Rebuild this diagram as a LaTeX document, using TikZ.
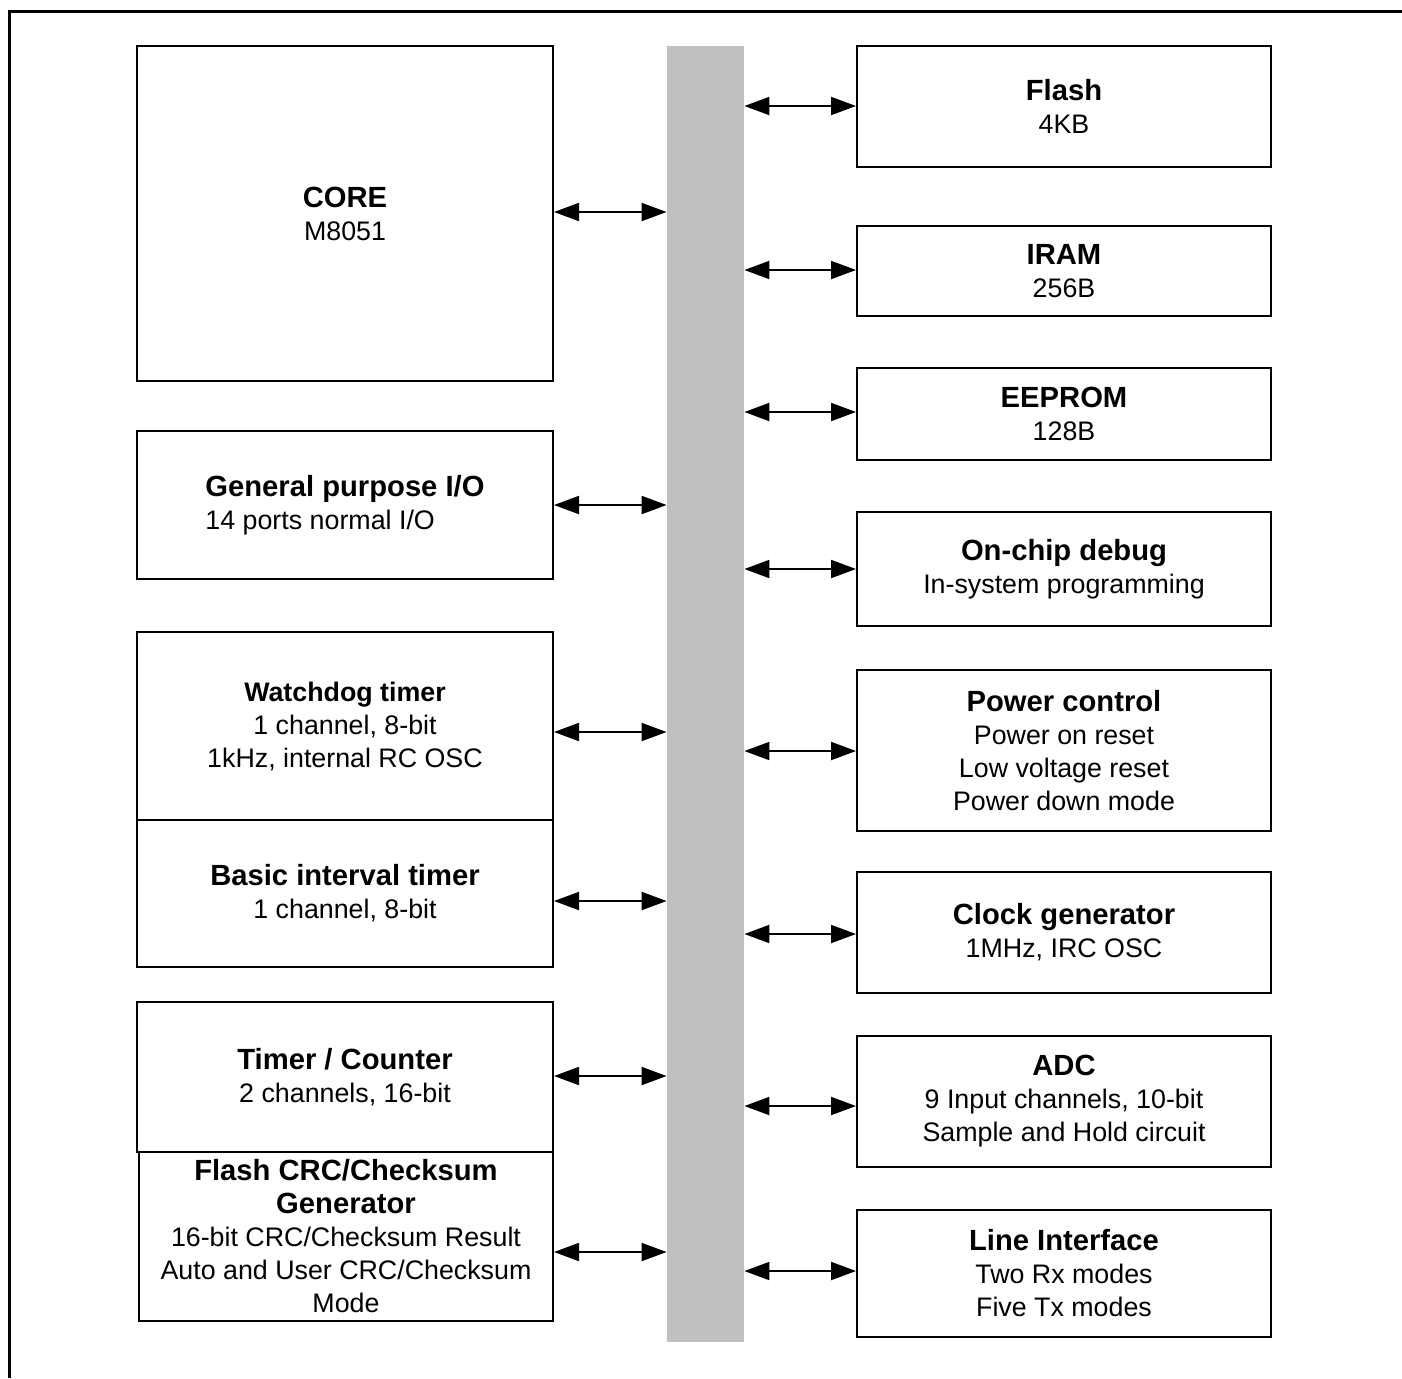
\documentclass[tikz,border=0pt]{standalone}
\usepackage{fontspec}
\setmainfont{Liberation Sans}
\usetikzlibrary{arrows.meta,positioning}

\definecolor{busgray}{RGB}{192,192,192}
\newcommand{\blkttl}[1]{{\fontsize{14.6}{16.5}\selectfont\bfseries #1}}

\tikzset{
  blk/.style={draw, line width=1pt, align=center, inner sep=0pt, font=\fontsize{13.4}{16.5}\selectfont},
  lblk/.style={blk, minimum width=208pt},
  rblk/.style={blk, minimum width=207pt},
  biarrow/.style={{Triangle[length=12.5pt,width=9pt]}-{Triangle[length=12.5pt,width=9pt]}, line width=1pt},
}

\begin{document}
\begin{tikzpicture}[x=0.5pt, y=-0.5pt]
\useasboundingbox (0,0) rectangle (1402,1378);

% Outer frame (left and top edge only)
\draw[line width=1.5pt] (9,1378) -- (9,11) -- (1402,11);

% Internal bus
\node[fill=busgray, inner sep=0pt, minimum width=38.5pt, minimum height=648pt] (bus) at (705.5,694) {};

% Left column
\node[lblk, minimum height=167.5pt] (core) at (345,213.5) {\blkttl{CORE}\\M8051};
\node[lblk, minimum height=74pt, align=left] (gpio) at (345,505) {\blkttl{General purpose I/O}\\14 ports normal I/O};
\node[lblk, minimum height=94pt] (wdt) at (345,726) {{\fontsize{13.4}{16.5}\selectfont\bfseries Watchdog timer}\\1 channel, 8-bit\\1kHz, internal RC OSC};
\node[lblk, minimum height=73.5pt] (bit) at (345,893.5) {\blkttl{Basic interval timer}\\1 channel, 8-bit};
\node[lblk, minimum height=75pt] (tc) at (345,1077) {\blkttl{Timer / Counter}\\2 channels, 16-bit};
\node[rblk, minimum height=84.5pt] (crc) at (346,1236.5) {\blkttl{Flash CRC/Checksum}\\\blkttl{Generator}\\16-bit CRC/Checksum Result\\Auto and User CRC/Checksum\\Mode};

% Right column
\node[rblk, minimum height=60.5pt] (flash) at (1064,106.5) {\blkttl{Flash}\\4KB};
\node[rblk, minimum height=45pt] (iram) at (1064,271) {\blkttl{IRAM}\\256B};
\node[rblk, minimum height=46pt] (eeprom) at (1064,414) {\blkttl{EEPROM}\\128B};
\node[rblk, minimum height=57pt] (ocd) at (1064,569) {\blkttl{On-chip debug}\\In-system programming};
\node[rblk, minimum height=80.5pt] (pwr) at (1064,750.5) {\blkttl{Power control}\\Power on reset\\Low voltage reset\\Power down mode};
\node[rblk, minimum height=60.5pt] (clk) at (1064,932.5) {\blkttl{Clock generator}\\1MHz, IRC OSC};
\node[rblk, minimum height=65.5pt] (adc) at (1064,1101.5) {\blkttl{ADC}\\9 Input channels, 10-bit\\Sample and Hold circuit};
\node[rblk, minimum height=63.5pt] (lif) at (1064,1273.5) {\blkttl{Line Interface}\\Two Rx modes\\Five Tx modes};

% Bus connections
\foreach \n/\y in {core/212, gpio/505, wdt/732, bit/901, tc/1076, crc/1252}
  \draw[biarrow] (\n.east |- 0,\y) -- (bus.west |- 0,\y);
\foreach \n/\y in {flash/106, iram/270, eeprom/412, ocd/569, pwr/751, clk/934, adc/1106, lif/1271}
  \draw[biarrow] (bus.east |- 0,\y) -- (\n.west |- 0,\y);

\end{tikzpicture}
\end{document}
